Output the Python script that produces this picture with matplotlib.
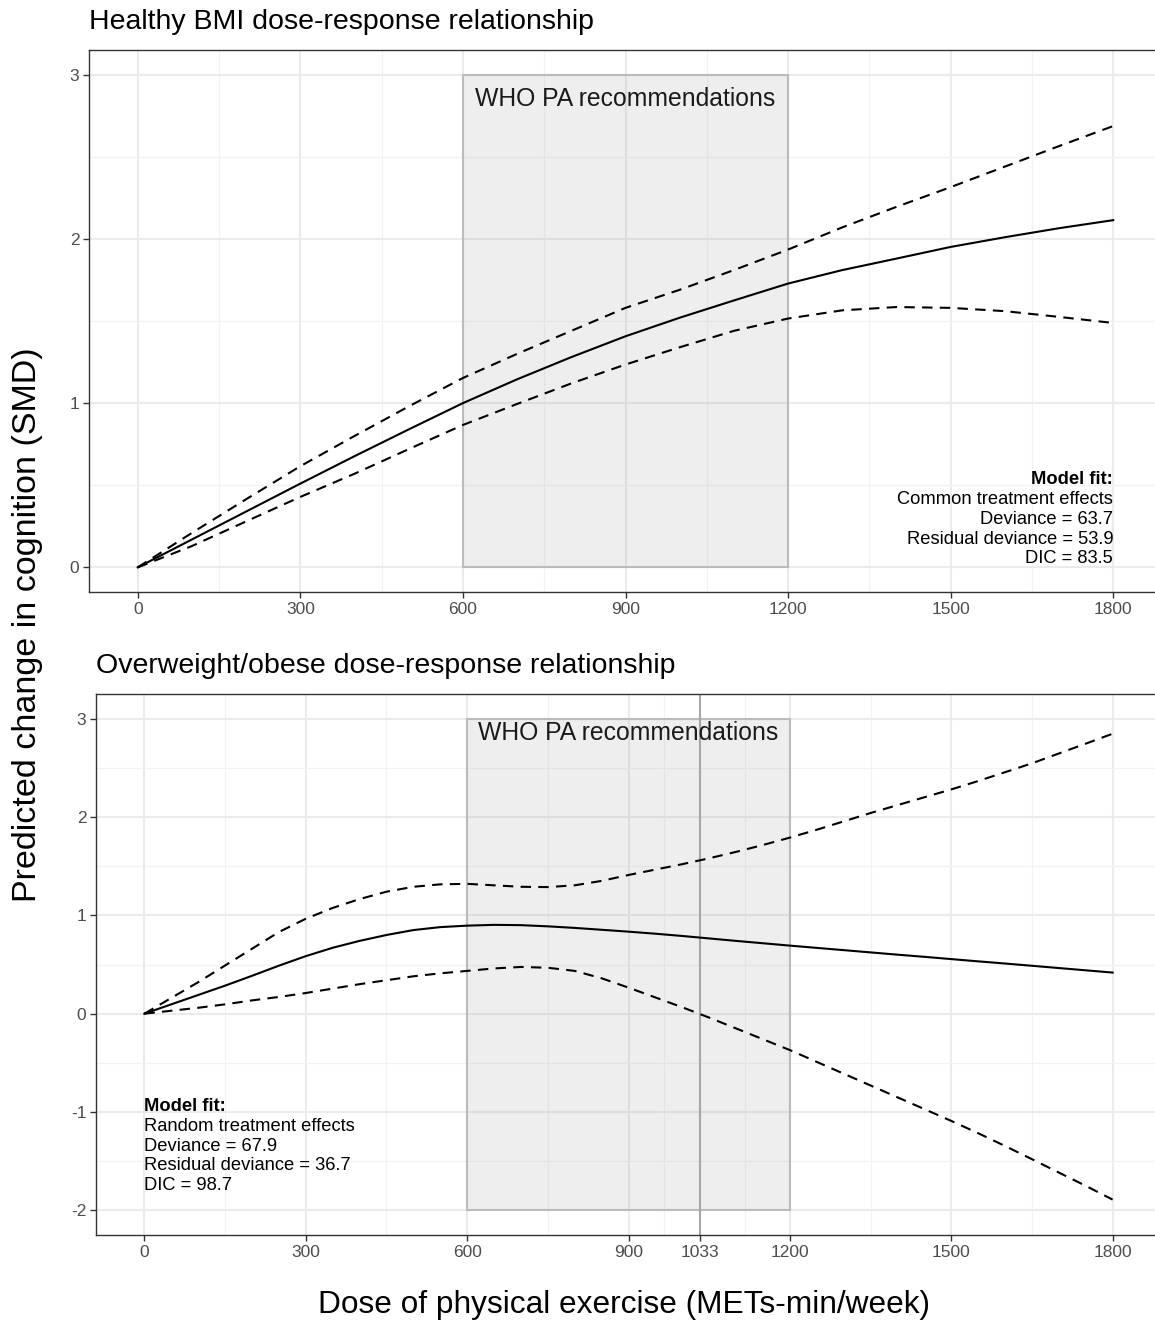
import matplotlib
matplotlib.use("Agg")
import matplotlib.pyplot as plt
from matplotlib.patches import Rectangle
from matplotlib.ticker import FixedLocator

plt.rcParams['font.family'] = ['Liberation Sans', 'DejaVu Sans']
plt.rcParams['axes.unicode_minus'] = False

# Healthy BMI panel: dose grid, median and 95% credible limits
dose_top = [0, 100, 200, 300, 400, 500, 600, 700, 800, 900,
            1000, 1100, 1200, 1300, 1400, 1500, 1600, 1700, 1800]
healthy_mid = [0, 0.17, 0.34, 0.51, 0.677, 0.84, 1.0, 1.145, 1.28, 1.407,
               1.52, 1.625, 1.728, 1.81, 1.88, 1.951, 2.01, 2.065, 2.114]
healthy_hi = [0, 0.21, 0.415, 0.616, 0.80, 0.98, 1.153, 1.30, 1.44, 1.58,
              1.69, 1.81, 1.935, 2.07, 2.195, 2.315, 2.44, 2.565, 2.687]
healthy_lo = [0, 0.13, 0.28, 0.429, 0.57, 0.72, 0.867, 0.995, 1.12, 1.235,
              1.34, 1.44, 1.515, 1.565, 1.585, 1.58, 1.56, 1.525, 1.488]

# Overweight/obese panel (finer grid, more curvature)
dose_bot = [0, 50, 100, 150, 200, 250, 300, 350, 400, 450, 500, 550, 600,
            650, 700, 750, 800, 850, 900, 950, 1000, 1050, 1100, 1150, 1200,
            1250, 1300, 1350, 1400, 1450, 1500, 1550, 1600, 1650, 1700, 1750, 1800]
obese_mid = [0, 0.095, 0.19, 0.285, 0.385, 0.488, 0.585, 0.67, 0.74, 0.80, 0.85, 0.88, 0.895,
             0.903, 0.90, 0.888, 0.872, 0.853, 0.834, 0.813, 0.79, 0.765, 0.74, 0.716, 0.692,
             0.669, 0.646, 0.623, 0.60, 0.578, 0.555, 0.532, 0.51, 0.487, 0.464, 0.441, 0.418]
obese_hi = [0, 0.16, 0.32, 0.49, 0.66, 0.83, 0.965, 1.075, 1.165, 1.24, 1.29, 1.315, 1.32,
            1.305, 1.29, 1.287, 1.305, 1.35, 1.41, 1.465, 1.52, 1.58, 1.645, 1.715, 1.79,
            1.87, 1.955, 2.04, 2.12, 2.20, 2.28, 2.365, 2.455, 2.545, 2.645, 2.745, 2.846]
obese_lo = [0, 0.03, 0.06, 0.095, 0.135, 0.17, 0.21, 0.255, 0.30, 0.34, 0.38, 0.41, 0.435,
            0.46, 0.475, 0.467, 0.435, 0.36, 0.265, 0.165, 0.065, -0.04, -0.15, -0.26, -0.37,
            -0.49, -0.61, -0.73, -0.85, -0.97, -1.09, -1.215, -1.345, -1.479, -1.615, -1.75, -1.89]

who_range = (600, 1200)
obese_marker = 1033

top_xticks = [0, 300, 600, 900, 1200, 1500, 1800]
bot_xticks = [0, 300, 600, 900, 1033, 1200, 1500, 1800]
top_yticks = [0, 1, 2, 3]
bot_yticks = [-2, -1, 0, 1, 2, 3]

top_fit = ["Model fit:", "Common treatment effects", "Deviance = 63.7",
           "Residual deviance = 53.9", "DIC = 83.5"]
bot_fit = ["Model fit:", "Random treatment effects", "Deviance = 67.9",
           "Residual deviance = 36.7", "DIC = 98.7"]

W, H = 1155, 1322
fig = plt.figure(figsize=(W / 100, H / 100), dpi=100)


def panel(rect, xticks, yticks, ylim, dose, mid, hi, lo, title, title_x, title_y):
    ax = fig.add_axes(rect)
    ax.set_xlim(-90, 1890)
    ax.set_ylim(*ylim)

    # minor grid at midpoints like ggplot
    xminor = [(a + b) / 2 for a, b in zip(xticks[:-1], xticks[1:])]
    yminor = [(a + b) / 2 for a, b in zip(yticks[:-1], yticks[1:])]
    ax.set_xticks(xticks)
    ax.set_yticks(yticks)
    ax.xaxis.set_minor_locator(FixedLocator(xminor))
    ax.yaxis.set_minor_locator(FixedLocator(yminor))
    ax.grid(which='major', color='#EBEBEB', lw=1.5, zorder=0)
    ax.grid(which='minor', color='#F2F2F2', lw=0.9, zorder=0)
    ax.set_axisbelow(True)
    ax.tick_params(which='major', length=4, width=1, color='#333333',
                   labelsize=12.5, labelcolor='#4D4D4D', pad=3)
    ax.tick_params(which='minor', length=0)
    for s in ax.spines.values():
        s.set_color('#333333')
        s.set_linewidth(1.0)

    # WHO shaded band
    y0, y1 = yticks[0], yticks[-1]
    ax.add_patch(Rectangle((who_range[0], y0), who_range[1] - who_range[0], y1 - y0,
                           facecolor=(0.5, 0.5, 0.5, 0.13), edgecolor='#BBBBBB',
                           lw=1.5, zorder=1))
    ax.text(sum(who_range) / 2, y1 - 0.15, "WHO PA recommendations",
            ha='center', va='center', fontsize=17.8, color='#1A1A1A', zorder=3)

    ax.plot(dose, mid, color='black', lw=1.5, zorder=4)
    ax.plot(dose, hi, color='black', lw=1.5, ls=(0, (5, 3.5)), zorder=4)
    ax.plot(dose, lo, color='black', lw=1.5, ls=(0, (5, 3.5)), zorder=4)

    fig.text(title_x / W, 1 - title_y / H, title, fontsize=20.5,
             ha='left', va='center', color='black')
    return ax


ax1 = panel([89 / W, 1 - 592 / H, (1162 - 89) / W, (592 - 50) / H],
            top_xticks, top_yticks, (-0.15, 3.15),
            dose_top, healthy_mid, healthy_hi, healthy_lo,
            "Healthy BMI dose-response relationship", 89, 22)

ax2 = panel([96 / W, 1 - 1235 / H, (1161 - 96) / W, (1235 - 694) / H],
            bot_xticks, bot_yticks, (-2.25, 3.25),
            dose_bot, obese_mid, obese_hi, obese_lo,
            "Overweight/obese dose-response relationship", 96, 666)
ax2.axvline(obese_marker, color='#A6A6A6', lw=1.5, zorder=2)

# model fit notes
step = 14.2
for i, line in enumerate(top_fit):
    ax1.annotate(line, xy=(1800, 0), xytext=(0, (len(top_fit) - 1 - i) * step),
                 textcoords='offset points', ha='right', va='bottom',
                 fontsize=13.2, fontweight='bold' if i == 0 else 'normal',
                 color='black', zorder=5)
for i, line in enumerate(bot_fit):
    ax2.annotate(line, xy=(0, -0.86), xytext=(0, -i * step),
                 textcoords='offset points', ha='left', va='top',
                 fontsize=13.2, fontweight='bold' if i == 0 else 'normal',
                 color='black', zorder=5)

fig.text(28 / W, 1 - 625 / H, "Predicted change in cognition (SMD)",
         rotation=90, ha='center', va='center', fontsize=24.5)
fig.text(624 / W, 1 - 1305 / H, "Dose of physical exercise (METs-min/week)",
         ha='center', va='center', fontsize=22.8)

fig.savefig("out.png", dpi=100)
